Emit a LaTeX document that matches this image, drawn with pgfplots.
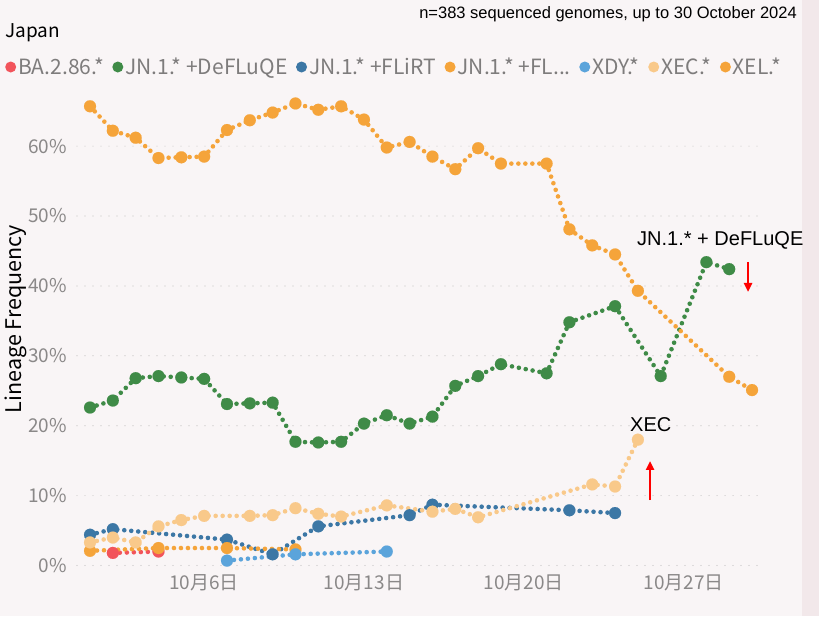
\documentclass[border=0pt]{standalone}
\usepackage{fontspec}
\setmainfont{Noto Sans CJK JP}
\newfontfamily\arialf{Liberation Sans}
\usepackage{pgfplots}
\pgfplotsset{compat=1.18}
\usetikzlibrary{arrows.meta}
\definecolor{bg}{HTML}{F9F5F6}
\definecolor{strip}{HTML}{F2E8EA}
\definecolor{gridc}{HTML}{C4C2C2}
\definecolor{tickc}{HTML}{8A8888}
\definecolor{legc}{HTML}{7E7C7C}
\definecolor{cBA}{HTML}{F2545B}
\definecolor{cDef}{HTML}{3F8B47}
\definecolor{cFLiRT}{HTML}{3C77A5}
\definecolor{cFL}{HTML}{F5A43A}
\definecolor{cXDY}{HTML}{5BA4DB}
\definecolor{cXEC}{HTML}{F9C98A}
\definecolor{cXEL}{HTML}{F5A43A}
\begin{document}
\begin{tikzpicture}[x=1pt,y=1pt]
\fill[bg] (0,0) rectangle (819,616);
\fill[strip] (802,0) rectangle (819,616);
\begin{axis}[
  at={(77pt,50.5pt)}, anchor=south west,
  scale only axis, width=686pt, height=475.3pt,
  xmin=0.43, xmax=30.48, ymin=0, ymax=68,
  clip=false,
  axis line style={draw=none},
  major tick length=0pt,
  xtick={6,13,20,27},
  xticklabels={10月6日,10月13日,10月20日,10月27日},
  ytick={0,10,20,30,40,50,60},
  yticklabels={0\%,10\%,20\%,30\%,40\%,50\%,60\%},
  ymajorgrids,
  grid style={line width=1.2pt, dash pattern=on 0pt off 8pt, line cap=round, color=gridc},
  tick label style={font=\fontsize{19}{20}\selectfont, text=tickc},
  yticklabel style={inner sep=0pt, xshift=-10pt},
  xticklabel style={inner sep=0pt, yshift=-9pt},
  ylabel={Lineage Frequency},
  every axis y label/.style={at={(axis description cs:-0.0889,0.5186)}, rotate=90, anchor=center, font=\fontsize{21.5}{22}\selectfont, text=black},
  every axis plot/.append style={line width=4.6pt, dash pattern=on 0pt off 7pt, line cap=round, mark=*, mark size=6pt, mark options={solid, line width=0.1pt}},
  legend columns=-1,
  legend style={at={(axis description cs:0,1)}, anchor=west, xshift=-72pt, yshift=23.2pt, draw=none, fill=none, inner sep=0pt, font=\fontsize{21}{22}\selectfont, text=legc, nodes={inner sep=0pt}, /tikz/every odd column/.append style={column sep=2pt}, /tikz/every even column/.append style={column sep=8.5pt}},
  legend image code/.code={\fill[#1, solid, line width=0pt, draw=none] (5.5pt,0pt) circle (5.5pt);},
]
\addplot[color=cBA] table {
x y
2 1.8
4 2.0
};
\addlegendentry{BA.2.86.*}
\addplot[color=cDef] table {
x y
1 22.6
2 23.6
3 26.8
4 27.1
5 26.9
6 26.7
7 23.1
8 23.2
9 23.3
10 17.7
11 17.6
12 17.7
13 20.3
14 21.5
15 20.3
16 21.3
17 25.7
18 27.1
19 28.8
21 27.5
22 34.8
24 37.1
26 27.1
28 43.4
29 42.4
};
\addlegendentry{JN.1.* +DeFLuQE}
\addplot[color=cFLiRT] table {
x y
1 4.4
2 5.2
7 3.7
9 1.6
11 5.6
15 7.2
16 8.7
22 7.9
24 7.5
};
\addlegendentry{JN.1.* +FLiRT}
\addplot[color=cFL] table {
x y
1 2.1
4 2.5
7 2.5
10 2.3
};
\addlegendentry{JN.1.* +FL...}
\addplot[color=cXDY] table {
x y
7 0.7
10 1.6
14 2.0
};
\addlegendentry{XDY.*}
\addplot[color=cXEC] table {
x y
1 3.3
2 4.0
3 3.3
4 5.6
5 6.5
6 7.1
8 7.1
9 7.2
10 8.2
11 7.4
12 7.0
14 8.6
16 7.7
17 8.1
18 6.9
23 11.6
24 11.3
25 18.0
};
\addlegendentry{XEC.*}
\addplot[color=cXEL] table {
x y
1 65.7
2 62.2
3 61.2
4 58.3
5 58.4
6 58.5
7 62.3
8 63.7
9 64.8
10 66.1
11 65.2
12 65.7
13 63.8
14 59.8
15 60.6
16 58.5
17 56.7
18 59.7
19 57.5
21 57.5
22 48.1
23 45.8
24 44.5
25 39.3
29 27.0
30 25.1
};
\addlegendentry{XEL.*}
\end{axis}
\node[anchor=base west, font=\fontsize{19}{20}\selectfont, text=black, inner sep=0pt] at (5,578) {Japan};
\node[anchor=base east, font=\arialf\fontsize{16.5}{17}\selectfont, text=black, inner sep=0pt] at (797,597.7) {n=383 sequenced genomes, up to 30 October 2024};
\node[anchor=base west, font=\arialf\fontsize{20}{21}\selectfont, text=black, inner sep=0pt] at (637,370.3) {JN.1.* + DeFLuQE};
\node[anchor=base west, font=\arialf\fontsize{20}{21}\selectfont, text=black, inner sep=0pt] at (630,184) {XEC};
\draw[red, line width=2.5pt, -{Triangle[width=8pt,length=9pt]}] (748,354) -- (748,324);
\draw[red, line width=2.5pt, -{Triangle[width=8pt,length=9pt]}] (650,116) -- (650,155);
\pgfresetboundingbox
\useasboundingbox (0,0) rectangle (819,616);
\end{tikzpicture}
\end{document}
